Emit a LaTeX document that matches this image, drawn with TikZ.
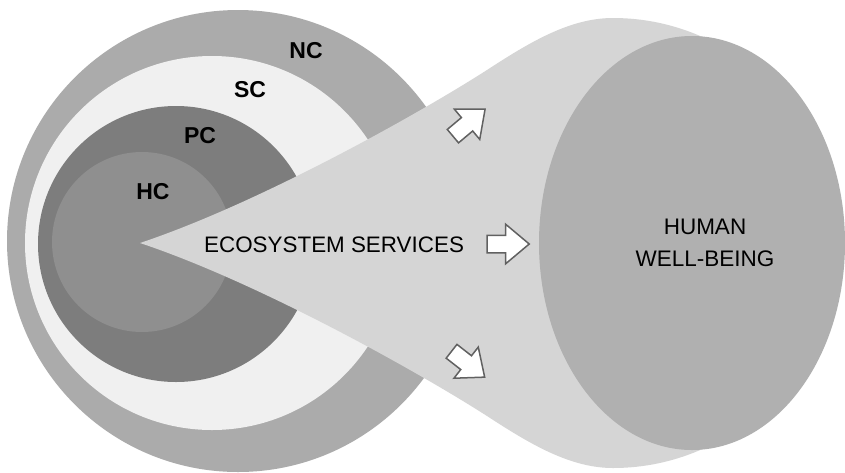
\documentclass[tikz,border=0pt]{standalone}
\usepackage{fontspec}
\setmainfont{Liberation Sans}
\usepackage{xcolor}
\usetikzlibrary{shapes, arrows}

\definecolor{ncgray}{gray}{0.67}
\definecolor{scgray}{gray}{0.94}
\definecolor{pcgray}{gray}{0.49}
\definecolor{hcgray}{gray}{0.56}
\definecolor{conegray}{gray}{0.835}
\definecolor{hwbgray}{gray}{0.69}
\definecolor{arrowgray}{gray}{0.38}

\begin{document}
\begin{tikzpicture}[x = 1pt, y = -1pt,
	capital/.style = {circle, inner sep = 0pt},
	caplabel/.style = {inner sep = 0pt, font = \fontsize{23}{23}\selectfont\bfseries},
	flow/.style = {single arrow, draw = arrowgray, fill = white, line width = 1.5pt, inner xsep = 0pt, inner ysep = 8pt,
		minimum height = 42pt, single arrow head extend = 11pt, single arrow tip angle = 80}]
\useasboundingbox[fill = white] (0,0) rectangle (845,472);

\node[capital, fill = ncgray, minimum size = 462pt]	(NC)	at (238,241)	{};
\node[capital, fill = scgray, minimum size = 374pt]	(SC)	at (212,243)	{};
\node[capital, fill = pcgray, minimum size = 276pt]	(PC)	at (176,244)	{};
\node[capital, fill = hcgray, minimum size = 180pt]	(HC)	at (142,242)	{};

\coordinate	(apex)	at (140,243);
\fill[conegray]	(apex)	.. controls (260,203) and (420,113) .. (487,70)
					.. controls (530,42) and (570,18) .. (613,18)
					arc[start angle = -90, end angle = 90, x radius = 222, y radius = 225]
					.. controls (570,468) and (530,444) .. (487,416)
					.. controls (420,373) and (260,283) .. (apex);

\node[ellipse, fill = hwbgray, inner sep = 0pt, minimum width = 306pt, minimum height = 414pt]	(HWB)	at (692,243)	{};
\node[align = center, inner sep = 0pt, font = \fontsize{22.5}{32}\selectfont]	(HWBtext)	at (705,243)	{HUMAN\\WELL-BEING};

\node[caplabel]	(NClabel)	at (306,51)		{NC};
\node[caplabel]	(SClabel)	at (250,90)		{SC};
\node[caplabel]	(PClabel)	at (200,136)	{PC};
\node[caplabel]	(HClabel)	at (153,192)	{HC};

\node[anchor = west, inner sep = 0pt, font = \fontsize{22.4}{24}\selectfont]	(ES)	at (204,245)	{ECOSYSTEM SERVICES};

\node[flow]					(ESarrow)	at (503,244)	{};
\node[flow, rotate = 40]	(upArrow)	at (465,126)	{};
\node[flow, rotate = -38]	(downArrow)	at (464,361)	{};
\end{tikzpicture}
\end{document}
